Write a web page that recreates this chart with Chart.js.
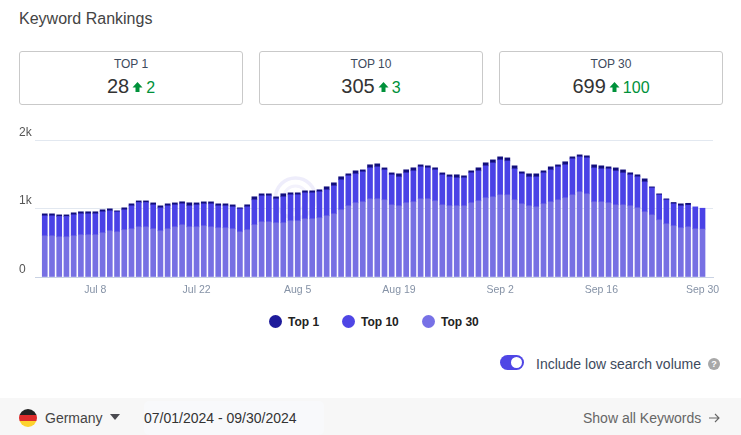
<!DOCTYPE html>
<html>
<head>
<meta charset="utf-8">
<script src="https://cdn.jsdelivr.net/npm/chart.js@4/dist/chart.umd.min.js"></script>
<style>
  * { box-sizing: border-box; }
  html, body { margin: 0; padding: 0; width: 741px; height: 435px; overflow: hidden; background: #fff; font-family: "Liberation Sans", Arial, sans-serif; color: #333; }
  .abs { position: absolute; white-space: nowrap; }
  .title { left: 19px; top: 10px; font-size: 16px; line-height: 18px; color: #444; }
  .card { position: absolute; top: 51px; width: 224px; height: 54px; border: 1px solid #c9c9c9; border-radius: 3px; text-align: center; }
  .card .lbl { font-size: 12px; line-height: 14px; margin-top: 5px; color: #3d4a5c; }
  .card .val { font-size: 20px; line-height: 24px; margin-top: 3px; color: #333; }
  .card .up { color: #00913a; font-size: 16px; }
  .card svg { width: 11px; height: 12px; margin: 0 3px 0 3px; }
  #mark { position: absolute; left: 265px; top: 170px; }
  #wrap { position: absolute; left: 0; top: 120px; width: 741px; height: 180px; }
  #legend-rank span { position: absolute; top: 315px; font-size: 12px; line-height: 14px; font-weight: bold; color: #222; white-space: nowrap; }
  #legend-rank i { position: absolute; top: 315px; width: 13px; height: 13px; border-radius: 50%; }
  .foot { position: absolute; left: 0; top: 398px; width: 741px; height: 37px; background: #f7f7f7; }
  .datebox { position: absolute; left: 144px; top: 401px; width: 180px; height: 34px; background: #f8f9fb; border-radius: 5px; }
  .flag { position: absolute; left: 19px; top: 409px; width: 18px; height: 18px; border-radius: 50%; background: linear-gradient(#222 0 33.3%, #dd2c2c 33.3% 66.6%, #fdd22e 66.6%); }
  .toggle { position: absolute; left: 500px; top: 355px; width: 24px; height: 15px; border-radius: 8px; background: #4f46e5; }
  .toggle i { position: absolute; right: 2px; top: 2px; width: 11px; height: 11px; border-radius: 50%; background: #fff; }
  .help { position: absolute; left: 708px; top: 358px; width: 12px; height: 12px; border-radius: 50%; background: #a8a8a8; color: #fff; font-size: 9px; font-weight: bold; line-height: 12px; text-align: center; }
</style>
</head>
<body>
<div class="abs title">Keyword Rankings</div>

<div class="card" style="left:19px"><div class="lbl">TOP 1</div><div class="val">28<svg viewBox="0 0 11 12"><path d="M5.5 1 L10.5 6.5 H7.5 V11 H3.5 V6.5 H0.5 Z" fill="#00913a"/></svg><span class="up">2</span></div></div>
<div class="card" style="left:259px"><div class="lbl">TOP 10</div><div class="val">305<svg viewBox="0 0 11 12"><path d="M5.5 1 L10.5 6.5 H7.5 V11 H3.5 V6.5 H0.5 Z" fill="#00913a"/></svg><span class="up">3</span></div></div>
<div class="card" style="left:499px"><div class="lbl">TOP 30</div><div class="val">699<svg viewBox="0 0 11 12"><path d="M5.5 1 L10.5 6.5 H7.5 V11 H3.5 V6.5 H0.5 Z" fill="#00913a"/></svg><span class="up">100</span></div></div>

<!-- faint watermark behind the bars -->
<svg id="mark" width="60" height="60"><circle cx="30.5" cy="28" r="20" fill="none" stroke="#eeedfb" stroke-width="3.5"/><circle cx="30.5" cy="28" r="12" fill="none" stroke="#f3f2fc" stroke-width="3"/></svg>

<div id="wrap"><canvas id="chart-rank"></canvas></div>
<div id="legend-rank"></div>

<div class="toggle"><i></i></div>
<div class="abs" style="left:536px;top:356px;font-size:14px;line-height:16px;color:#3d4a5c">Include low search volume</div>
<div class="help">?</div>

<div class="foot"></div>
<div class="datebox"></div>
<div class="flag"></div>
<div class="abs" style="left:45px;top:410px;font-size:14px;line-height:16px;color:#444">Germany</div>
<svg class="abs" style="left:110px;top:414px" width="10" height="6"><path d="M0 0 H10 L5 6 Z" fill="#4a4a50"/></svg>
<div class="abs" style="left:144px;top:410px;font-size:14px;line-height:16px;color:#333">07/01/2024 - 09/30/2024</div>
<div class="abs" style="left:583px;top:410px;font-size:14px;line-height:16px;color:#666">Show all Keywords</div>
<svg class="abs" style="left:708px;top:412px" width="12" height="12"><path d="M1 6 H11 M7 2 L11 6 L7 10" fill="none" stroke="#666" stroke-width="1.1"/></svg>

<script>
// ── DATA ──
var top30 = [601,601,586,586,601,616,616,616,645,674,659,689,703,732,732,703,674,703,732,762,732,732,747,732,718,718,703,659,689,
  762,805,805,791,791,820,820,849,849,864,893,922,981,1039,1083,1097,1141,1141,1126,1053,1039,1083,1097,1141,1141,1112,1053,1039,1039,1039,1083,1112,1156,1170,
  1199,1199,1126,1068,1039,1024,1068,1097,1126,1156,1199,1243,1214,1097,1097,1083,1053,1053,1039,1010,951,907,834,776,747,718,732,703,699];
var top10 = [292,292,297,297,307,307,307,307,307,292,292,292,336,355,355,350,336,336,321,307,307,321,321,336,321,321,321,336,336,
  365,380,380,350,380,380,380,380,380,380,380,409,438,438,423,438,453,467,438,438,423,438,453,467,453,453,438,423,409,409,438,438,467,496,
  511,496,453,438,423,438,453,467,482,482,526,511,526,496,482,496,496,467,453,453,438,394,365,350,321,321,316,321,305];
var top1 = [29,29,24,24,29,29,29,29,29,29,15,29,29,24,24,29,29,29,29,29,44,29,29,29,29,29,29,15,29,
  44,29,29,29,44,29,29,29,29,29,44,44,44,29,44,29,44,44,29,29,44,44,44,29,29,29,29,29,44,29,29,44,44,44,
  44,44,44,29,44,44,29,44,29,44,29,29,29,44,44,29,44,44,29,29,44,15,15,15,20,29,28];
var dayIndex = top30.map(function(v, i) { return i; });
var tickDays = [7, 21, 35, 49, 63, 77, 91];
var tickNames = ['Jul 8', 'Jul 22', 'Aug 5', 'Aug 19', 'Sep 2', 'Sep 16', 'Sep 30'];
var yTicks = [0, 1000, 2000];
var yNames = ['0', '1k', '2k'];
var legendNames = ['Top 1', 'Top 10', 'Top 30'];
var legendCols = ['#1e1b9b', '#4f46e5', '#7771e6'];
var legendDotX = [269, 342, 422];
var legendTextX = [288, 361, 441];

new Chart(document.getElementById('chart-rank').getContext('2d'), {
  type: 'bar',
  data: {
    labels: dayIndex,
    datasets: [
      { label: 'Top 30', data: top30, backgroundColor: '#7770e3', barThickness: 5 },
      { label: 'Top 10', data: top10, backgroundColor: '#4a42e6', barThickness: 5 },
      { label: 'Top 1',  data: top1,  backgroundColor: '#120e7c', barThickness: 5 }
    ]
  },
  options: {
    responsive: true, maintainAspectRatio: false, animation: false,
    layout: { padding: { left: 19, right: 28, top: 20, bottom: 0 } },
    plugins: { legend: { display: false }, tooltip: { enabled: false } },
    scales: {
      x: {
        type: 'linear', stacked: true, offset: false, min: -1.35, max: 92.45,
        afterFit: function(axis) { axis.height = 23; },
        afterBuildTicks: function(axis) { axis.ticks = tickDays.map(function(d) { return { value: d }; }); },
        grid: { display: false, drawTicks: false },
        border: { color: '#c9d2e3' },
        ticks: {
          autoSkip: false, maxRotation: 0, padding: 7,
          color: '#8592a6', font: { family: '"Liberation Sans"', size: 10.5 },
          callback: function(v) { return tickNames[tickDays.indexOf(v)]; }
        }
      },
      y: {
        stacked: true, min: 0, max: 2000,
        afterFit: function(axis) { axis.width = 16; },
        afterBuildTicks: function(axis) { axis.ticks = yTicks.map(function(v) { return { value: v }; }); },
        grid: { color: '#e2e8f0', drawTicks: false },
        border: { display: false },
        ticks: {
          crossAlign: 'far', labelOffset: -7.5, padding: 0,
          color: '#555', font: { family: '"Liberation Sans"', size: 12 },
          callback: function(v) { return yNames[yTicks.indexOf(v)]; }
        }
      }
    }
  }
});

// legend is plain html so the dots sit where we want them
document.getElementById('legend-rank').innerHTML = legendNames.map(function(l, i) {
  return '<i style="left:' + legendDotX[i] + 'px;background:' + legendCols[i] + '"></i><span style="left:' + legendTextX[i] + 'px">' + l + '</span>';
}).join('');
</script>
</body>
</html>
